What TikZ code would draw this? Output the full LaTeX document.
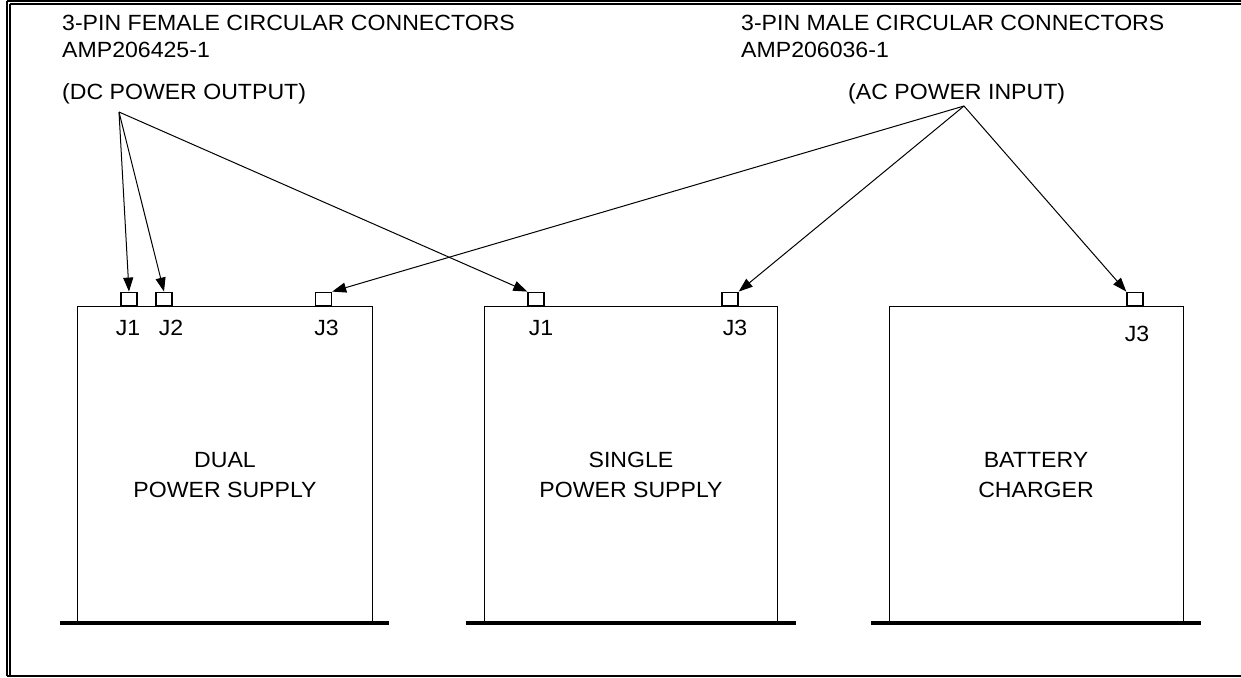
\documentclass[tikz,border=0pt]{standalone}
\usepackage{fontspec}
\setmainfont[FakeStretch=1.05]{Liberation Sans}
\usetikzlibrary{arrows.meta}
\begin{document}
\begin{tikzpicture}[x=1pt,y=-1pt,
  lbl/.style={font=\fontsize{22}{25}\selectfont, inner sep=0pt},
  unitbox/.style={draw, line width=1.4pt, minimum height=317pt, anchor=north west, inner sep=0pt},
  unittext/.style={font=\fontsize{22}{30}\selectfont, align=center, inner sep=0pt},
  conn/.style={draw, line width=1.4pt, minimum width=16pt, minimum height=13pt, inner sep=0pt, anchor=south},
  ground/.style={line width=3.4pt},
  feed/.style={line width=1pt, -{Triangle[length=14pt,width=10pt]}},
  frame/.style={line width=1.4pt}]
\useasboundingbox (0,0) rectangle (1241,677);
% frame
\draw[frame] (7,1) -- (1241,1);
\draw[frame] (10,4) -- (1241,4);
\draw[frame] (7,1) -- (7,676);
\draw[frame] (10,4) -- (10,676);
\draw[frame] (7,676) -- (1241,676);
% headings
\node[lbl, anchor=base west] (fh1) at (62,31) {3-PIN FEMALE CIRCULAR CONNECTORS};
\node[lbl, anchor=base west] (fh2) at (62,57) {AMP206425-1};
\node[lbl, anchor=base west] (fh3) at (62,99) {(DC POWER OUTPUT)};
\node[lbl, anchor=base west] (mh1) at (741,31) {3-PIN MALE CIRCULAR CONNECTORS};
\node[lbl, anchor=base west] (mh2) at (741,57) {AMP206036-1};
\node[lbl, anchor=base west] (mh3) at (848,99) {(AC POWER INPUT)};
\coordinate (dc) at (119,112);
\coordinate (ac) at (964,106);
% units
\node[unitbox, minimum width=295pt] (dual) at (77,306) {};
\node[unitbox, minimum width=293pt] (single) at (484,306) {};
\node[unitbox, minimum width=294pt] (batt) at (889,306) {};
\draw[ground] (60,623) -- (389,623);
\draw[ground] (466,623) -- (796,623);
\draw[ground] (871,623) -- (1201,623);
\node[unittext] (dualt) at (225,475) {DUAL\\POWER SUPPLY};
\node[unittext] (singlet) at (631,475) {SINGLE\\POWER SUPPLY};
\node[unittext] (battt) at (1036,475) {BATTERY\\CHARGER};
% connectors
\node[conn] (dj1) at (129,306) {};
\node[conn] (dj2) at (164,306) {};
\node[conn] (dj3) at (323.5,306) {};
\node[conn] (sj1) at (536,306) {};
\node[conn] (sj3) at (730,306) {};
\node[conn] (bj3) at (1135,306) {};
\node[lbl, anchor=base] (dj1l) at (128,335) {J1};
\node[lbl, anchor=base] (dj2l) at (171,335) {J2};
\node[lbl, anchor=base] (dj3l) at (326.5,335) {J3};
\node[lbl, anchor=base] (sj1l) at (541,335) {J1};
\node[lbl, anchor=base] (sj3l) at (735,335) {J3};
\node[lbl, anchor=base] (bj3l) at (1137,341) {J3};
% feeds
\draw[feed] (dc) -- (dj1.north);
\draw[feed] (dc) -- (dj2.north);
\draw[feed] (dc) -- (sj1.north west);
\draw[feed] (ac) -- (dj3.north east);
\draw[feed] (ac) -- (sj3.north east);
\draw[feed] (ac) -- (bj3.north west);
\end{tikzpicture}
\end{document}
